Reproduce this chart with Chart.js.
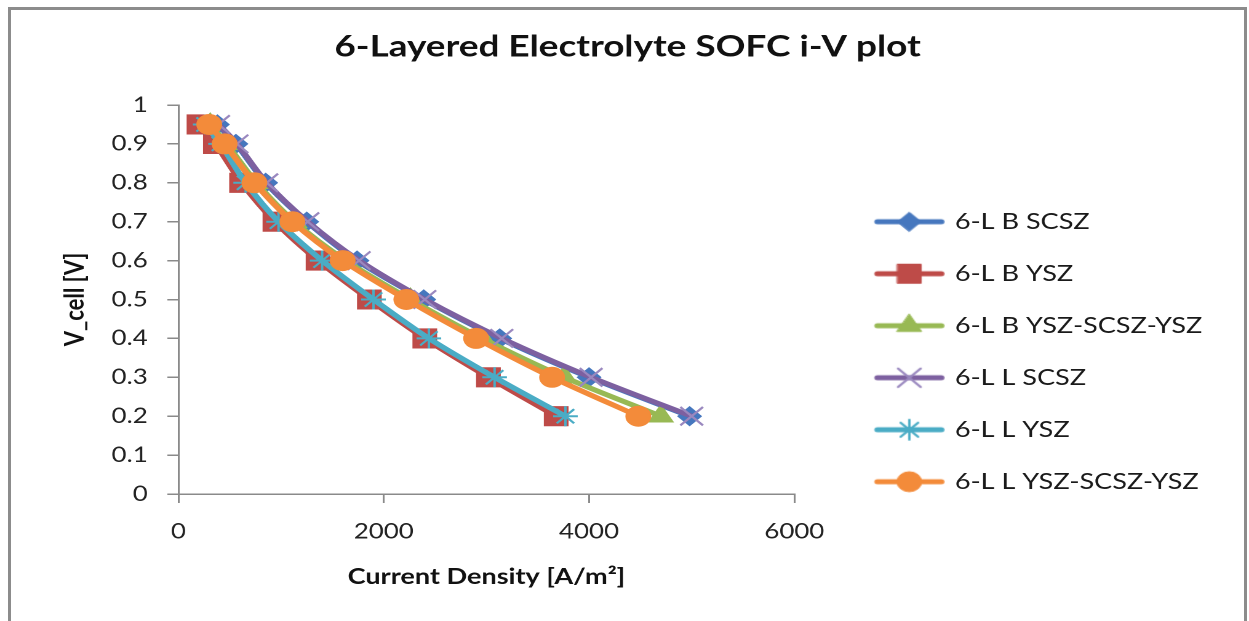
<!DOCTYPE html>
<html>
<head>
<meta charset="utf-8">
<title>6-Layered Electrolyte SOFC i-V plot</title>
<script src="https://cdn.jsdelivr.net/npm/chart.js@4.4.0/dist/chart.umd.min.js"></script>
<style>
  body { margin: 0; background: #fff; }
  .frame {
    position: absolute; left: 8px; top: 7px;
    width: 1233px; height: 640px;
    border: 3px solid #8c8c8c; border-bottom: none;
  }
  /* the original picture is stretched sideways, so draw narrower and widen with css */
  #chart { position: absolute; left: 0; top: 0; width: 1249px; height: 621px; }
</style>
</head>
<body>
<div class="frame"></div>
<canvas id="chart" width="1015" height="621" style="width:1249px;height:621px"></canvas>
<script>
// cell voltage (V) at each point, shared by all series
const voltage = [0.95, 0.9, 0.8, 0.7, 0.6, 0.5, 0.4, 0.3, 0.2];

// current density (A/m2)
const bScsz = [380, 560, 850, 1250, 1740, 2390, 3130, 4000, 4980];
const bYsz = [200, 360, 615, 940, 1360, 1860, 2400, 3020, 3680];
const bYszScszYsz = [310, 470, 760, 1130, 1630, 2260, 2960, 3760, 4700];
const lScsz = [390, 570, 860, 1260, 1760, 2400, 3150, 4020, 5000];
const lYsz = [260, 410, 655, 975, 1400, 1900, 2440, 3080, 3770];
const lYszScszYsz = [300, 450, 740, 1110, 1600, 2220, 2900, 3640, 4480];

const names = ['6-L B SCSZ', '6-L B YSZ', '6-L B YSZ-SCSZ-YSZ', '6-L L SCSZ', '6-L L YSZ', '6-L L YSZ-SCSZ-YSZ'];
const series = [bScsz, bYsz, bYszScszYsz, lScsz, lYsz, lYszScszYsz];

const colors = ['#4677BE', '#BE4B48', '#98B954', '#7D60A0', '#4AACC5', '#F38B3A'];
const markerColors = ['#4677BE', '#BE4B48', '#98B954', '#9A88BF', '#4AACC5', '#F38B3A'];
const markers = ['rectRot', 'rect', 'triangle', 'crossRot', 'star', 'circle'];
const markerSizes = [9.5, 13.5, 11.5, 13, 10, 10];

const font = 'Lato';
const thin = (i) => markers[i] === 'crossRot' || markers[i] === 'star';

// where things sit on the (narrow) canvas
const plotLeft = 145;
const legendLeft = 683;
const yTitleCenter = 61;
let padLeft = 30;

// small line + marker picture for each legend entry
const legendIcon = (i) => {
  const c = document.createElement('canvas');
  c.width = 58;
  c.height = 30;
  const ctx = c.getContext('2d');
  ctx.strokeStyle = colors[i];
  ctx.lineWidth = 5;
  ctx.lineCap = 'round';
  ctx.beginPath();
  ctx.moveTo(3, 15);
  ctx.lineTo(55, 15);
  ctx.stroke();
  ctx.fillStyle = markerColors[i];
  ctx.strokeStyle = markerColors[i];
  ctx.lineWidth = thin(i) ? 2 : 1;
  Chart.helpers.drawPoint(ctx, {
    pointStyle: markers[i],
    radius: markerSizes[i],
    rotation: 0,
    borderWidth: ctx.lineWidth
  }, 29, 15);
  return c;
};

const datasets = series.map((s, i) => ({
  label: names[i],
  data: voltage.map((v, j) => ({ x: s[j], y: v })),
  showLine: true,
  borderColor: colors[i],
  borderWidth: 5,
  tension: 0.3,
  pointStyle: markers[i],
  pointRadius: markerSizes[i],
  pointHoverRadius: markerSizes[i],
  pointBackgroundColor: markerColors[i],
  pointBorderColor: markerColors[i],
  pointBorderWidth: thin(i) ? 2 : 1,
  order: series.length - i
}));

const axisGrid = {
  drawOnChartArea: false,
  tickLength: 9,
  color: '#8a8a8a',
  lineWidth: 1.5
};

const chart = new Chart(document.getElementById('chart'), {
  type: 'scatter',
  data: { datasets },
  options: {
    responsive: false,
    devicePixelRatio: 2,
    animation: false,
    layout: { padding: { left: padLeft, right: 25, top: 0, bottom: 0 } },
    scales: {
      x: {
        type: 'linear',
        min: 0,
        max: 6000,
        ticks: {
          stepSize: 2000,
          font: { family: font, size: 21 },
          color: '#222',
          padding: 16,
          callback: (v) => String(v)
        },
        grid: axisGrid,
        border: { color: '#8a8a8a', width: 1.5 },
        title: {
          display: true,
          text: 'Current Density [A/m²]',
          font: { family: font, size: 22, weight: 'bold' },
          color: '#111',
          padding: { top: 0, bottom: 31 }
        },
        afterFit: (s) => { s.height = 127; }
      },
      y: {
        min: 0,
        max: 1,
        ticks: {
          stepSize: 0.1,
          font: { family: font, size: 21 },
          color: '#222',
          padding: 16,
          callback: (v) => String(+v.toFixed(1))
        },
        grid: axisGrid,
        border: { color: '#8a8a8a', width: 1.5 },
        title: {
          display: true,
          text: 'V_cell [V]',
          font: { family: font, size: 22, weight: 'bold' },
          color: '#111',
          padding: { top: yTitleCenter - 13.2 - padLeft, bottom: 0 }
        },
        afterFit: (s) => { s.width = plotLeft - padLeft; }
      },
      // empty axis, only keeps a gap between the plot and the legend
      gap: {
        position: 'right',
        grid: { display: false },
        border: { display: false },
        ticks: { display: false },
        afterFit: (s) => { s.width = 37.5; }
      }
    },
    plugins: {
      title: {
        display: true,
        text: '6-Layered Electrolyte SOFC i-V plot',
        font: { family: font, size: 30, weight: 'bold' },
        color: '#111',
        padding: { top: 29, bottom: 40 }
      },
      legend: {
        position: 'right',
        align: 'start',
        maxWidth: 420,
        title: { display: true, text: '', font: { size: 10 }, padding: { top: 168.7, bottom: 0 } },
        labels: {
          font: { family: font, size: 22 },
          color: '#1a1a1a',
          usePointStyle: true,
          pointStyleWidth: 52,
          boxHeight: 22,
          padding: 30,
          sort: (a, b) => a.datasetIndex - b.datasetIndex,
          generateLabels: (c) => {
            const items = Chart.defaults.plugins.legend.labels.generateLabels(c);
            items.forEach((item) => { item.pointStyle = legendIcon(item.datasetIndex); });
            return items;
          }
        }
      },
      tooltip: { enabled: false }
    }
  }
});

// legend width is only known after the first layout: put it at legendLeft
// and balance the side padding so the title stays centred like the original
const padRight = chart.canvas.width / chart.currentDevicePixelRatio - legendLeft - chart.legend.width;
padLeft = padRight + 5;
chart.options.layout.padding = { left: padLeft, right: padRight, top: 0, bottom: 0 };
chart.options.scales.y.title.padding = { top: yTitleCenter - 13.2 - padLeft, bottom: 0 };
chart.update();
</script>
</body>
</html>
